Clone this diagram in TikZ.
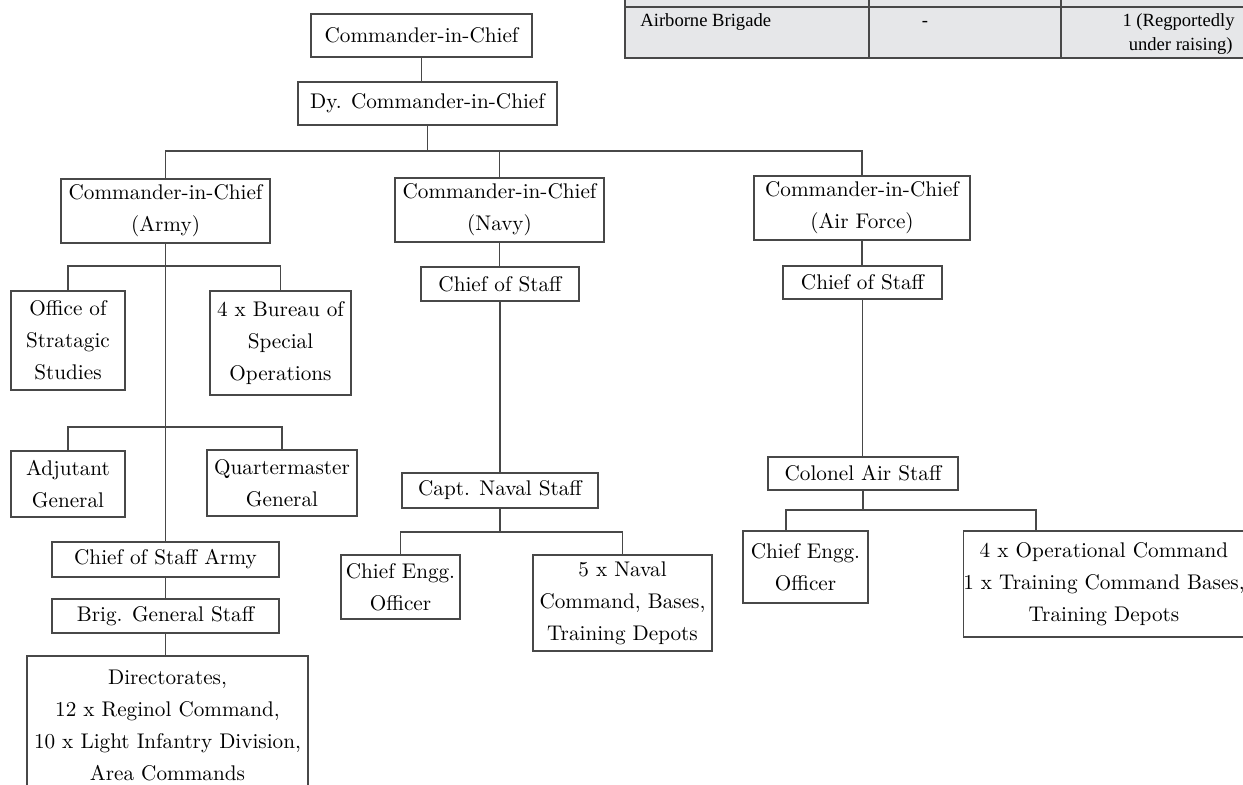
\documentclass[tikz,border=0pt]{standalone}
\usepackage{fontspec}
\usepackage{xcolor}
\usepackage{tikz}
\newfontfamily\tablefont{Liberation Serif}
\definecolor{linegray}{RGB}{72,72,72}
\definecolor{tablegray}{RGB}{230,231,233}
\tikzset{orgbox/.style 2 args={minimum width=#1*0.5pt, minimum height=#2*0.5pt}}

\begin{document}
\begin{tikzpicture}[x=0.5pt,y=-0.5pt]
						\useasboundingbox (0,0) rectangle (1243,784);
						\clip (0,0) rectangle (1243,784);
						\begin{scope}[draw=linegray, line width=0.7pt]
								\fill[tablegray] (625,-5) rectangle (1250,58);
								\draw (625,-5) -- (625,58) -- (1250,58);
								\draw (625,7) -- (1250,7);
								\draw (869,-5) -- (869,58);
								\draw (1061,-5) -- (1061,58);
						\end{scope}
						\begin{scope}[every node/.style={inner sep=0pt, font=\tablefont\fontsize{9.3}{12}\selectfont}]
								\node[anchor=base west] (brigade) at (640,26) {Airborne Brigade};
								\node[anchor=base] (dash) at (925,26) {-};
								\node[anchor=base east] (raisA) at (1235,26) {1 (Regportedly};
								\node[anchor=base east] (raisB) at (1233,50) {under raising)};
						\end{scope}
						\begin{scope}[every node/.style={draw=linegray, line width=0.7pt, align=center, inner sep=0pt,
										font=\fontsize{10.6}{16}\selectfont}]
								\node[orgbox={221}{43}] (cinc) at (421.5,35.5) {Commander-in-Chief};
								\node[orgbox={259}{43}] (dycinc) at (427.5,103.5) {Dy. Commander-in-Chief};
								\node[orgbox={209}{64}] (army) at (165.5,211) {Commander-in-Chief\\(Army)};
								\node[orgbox={209}{64}] (navy) at (499.5,210) {Commander-in-Chief\\(Navy)};
								\node[orgbox={216}{64}] (air) at (862,208) {Commander-in-Chief\\(Air Force)};
								\node[orgbox={158}{34}] (navycos) at (500,284) {Chief of Staff};
								\node[orgbox={159}{33}] (aircos) at (862.5,282.5) {Chief of Staff};
								\node[orgbox={114}{99}] (office) at (68,340.5) {Office of\\Stratagic\\Studies};
								\node[orgbox={141}{104}] (bureau) at (280.5,343) {4 x Bureau of\\Special\\Operations};
								\node[orgbox={114}{66}] (adjutant) at (68,484) {Adjutant\\General};
								\node[orgbox={150}{66}] (qm) at (282,483) {Quartermaster\\General};
								\node[orgbox={227}{35}] (cosarmy) at (165.5,559.5) {Chief of Staff Army};
								\node[orgbox={227}{34}] (brig) at (165.5,616) {Brig. General Staff};
								\node[orgbox={281}{138}] (direct) at (167.5,725) {Directorates,\\12 x Reginol Command,\\10 x Light Infantry Division,\\Area Commands};
								\node[orgbox={196}{35}] (capt) at (500,490.5) {Capt. Naval Staff};
								\node[orgbox={119}{64}] (navyengg) at (400.5,587) {Chief Engg.\\Officer};
								\node[orgbox={179}{96}] (naval) at (622.5,603) {5 x Naval\\Command, Bases,\\Training Depots};
								\node[orgbox={190}{33}] (colonel) at (863,473.5) {Colonel Air Staff};
								\node[orgbox={125}{72}] (airengg) at (805.5,567) {Chief Engg.\\Officer};
								\node[orgbox={280}{106}] (airops) at (1104,584) {4 x Operational Command\\1 x Training Command Bases,\\Training Depots};
						\end{scope}
						\coordinate (mainbus) at (427.5,151);
						\coordinate (armybusA) at (165.5,266);
						\coordinate (armybusB) at (165.5,427);
						\coordinate (navybus) at (500,532);
						\coordinate (airbusL) at (786,510);
						\coordinate (airbusR) at (1036,510);
						\begin{scope}[draw=linegray, line width=0.6pt]
								\draw (cinc.south) -- (cinc.south |- dycinc.north);
								\draw (dycinc.south) -- (dycinc.south |- mainbus);
								\draw (army.north) |- (mainbus) -| (air.north);
								\draw (navy.north) -- (navy.north |- mainbus);
								\draw (army.south) -- (cosarmy.north);
								\draw (office.north) |- (armybusA) -| (bureau.north);
								\draw (adjutant.north) |- (armybusB) -| (qm.north);
								\draw (cosarmy.south) -- (brig.north);
								\draw (brig.south) -- (brig.south |- direct.north);
								\draw (navy.south) -- (navy.south |- navycos.north);
								\draw (navycos.south) -- (navycos.south |- capt.north);
								\draw (capt.south) -- (navybus);
								\draw (navyengg.north) |- (navybus) -| (naval.north);
								\draw (air.south) -- (air.south |- aircos.north);
								\draw (aircos.south) -- (aircos.south |- colonel.north);
								\draw (colonel.south) -- (colonel.south |- airbusL);
								\draw (airengg.north -| airbusL) -- (airbusL) -- (airbusR) -- (airops.north -| airbusR);
						\end{scope}
				\end{tikzpicture}
\end{document}
